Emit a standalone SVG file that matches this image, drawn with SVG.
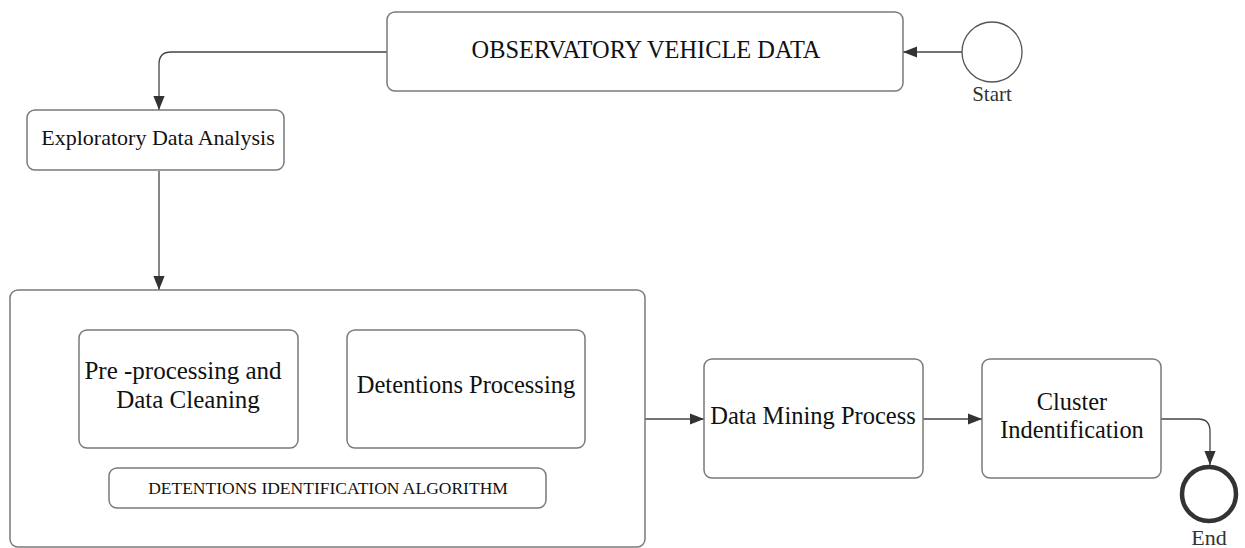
<svg xmlns="http://www.w3.org/2000/svg" width="1245" height="548" viewBox="0 0 1245 548">
  <style>
    .box { fill: #ffffff; stroke: #7a7a7a; stroke-width: 1.5; }
    .lbl { font-family: "Liberation Serif", "Times New Roman", serif; fill: #111111; text-anchor: middle; }
    .edge { fill: none; stroke: #444444; stroke-width: 1.3; }
    .cap { font-family: "Liberation Serif", "Times New Roman", serif; fill: #333333; text-anchor: middle; }
  </style>
  <defs>
    <marker id="arrow" viewBox="0 0 10 10" refX="10" refY="5" markerWidth="14" markerHeight="14" markerUnits="userSpaceOnUse" orient="auto">
      <path d="M0,1 L10,5 L0,9 Z" fill="#333333"/>
    </marker>
  </defs>
  <rect width="1245" height="548" fill="#ffffff"/>

  <g id="connectors">
    <path class="edge" d="M962,52 L903,52" marker-end="url(#arrow)"/>
    <path class="edge" d="M387,52 L171,52 Q159,52 159,64 L159,110" marker-end="url(#arrow)"/>
    <path class="edge" d="M159,171 L159,290" marker-end="url(#arrow)"/>
    <path class="edge" d="M298,389 L347,389" marker-end="url(#arrow)"/>
    <path class="edge" d="M645,419 L704,419" marker-end="url(#arrow)"/>
    <path class="edge" d="M923,419 L982,419" marker-end="url(#arrow)"/>
    <path class="edge" d="M1161,419 L1198,419 Q1210,419 1210,431 L1210,465" marker-end="url(#arrow)"/>
  </g>

  <g id="start">
    <circle cx="992" cy="52" r="30" fill="#ffffff" stroke="#555555" stroke-width="1.3"/>
    <text class="cap" x="992" y="101" font-size="21">Start</text>
  </g>

  <g id="observatory-vehicle-data">
    <rect class="box" x="387" y="12" width="516" height="79" rx="8"/>
    <text class="lbl" x="646" y="58" font-size="24.4">OBSERVATORY VEHICLE DATA</text>
  </g>

  <g id="exploratory-data-analysis">
    <rect class="box" x="27" y="110" width="257" height="60" rx="8"/>
    <text class="lbl" x="158" y="145" font-size="22">Exploratory Data Analysis</text>
  </g>

  <g id="detentions-identification-algorithm">
    <rect class="box" x="10" y="290" width="635" height="257" rx="8"/>
    <rect class="box" x="109" y="468" width="437" height="40" rx="8"/>
    <text class="lbl" x="328" y="494" font-size="17.5">DETENTIONS IDENTIFICATION ALGORITHM</text>
  </g>

  <g id="pre-processing">
    <rect class="box" x="79" y="330" width="219" height="118" rx="8"/>
    <text class="lbl" x="183" y="379" font-size="25">Pre -processing and</text>
    <text class="lbl" x="188" y="408" font-size="25">Data Cleaning</text>
  </g>

  <g id="detentions-processing">
    <rect class="box" x="347" y="330" width="238" height="118" rx="8"/>
    <text class="lbl" x="466" y="393" font-size="24.5">Detentions Processing</text>
  </g>

  <g id="data-mining-process">
    <rect class="box" x="704" y="359" width="219" height="119" rx="8"/>
    <text class="lbl" x="813" y="424" font-size="24.5">Data Mining Process</text>
  </g>

  <g id="cluster-identification">
    <rect class="box" x="982" y="359" width="179" height="119" rx="8"/>
    <text class="lbl" x="1072" y="410" font-size="24.4">Cluster</text>
    <text class="lbl" x="1072" y="438" font-size="24.4">Indentification</text>
  </g>

  <g id="end">
    <circle cx="1209" cy="494" r="27" fill="#ffffff" stroke="#333333" stroke-width="4.5"/>
    <text class="cap" x="1209" y="545" font-size="22">End</text>
  </g>
</svg>
